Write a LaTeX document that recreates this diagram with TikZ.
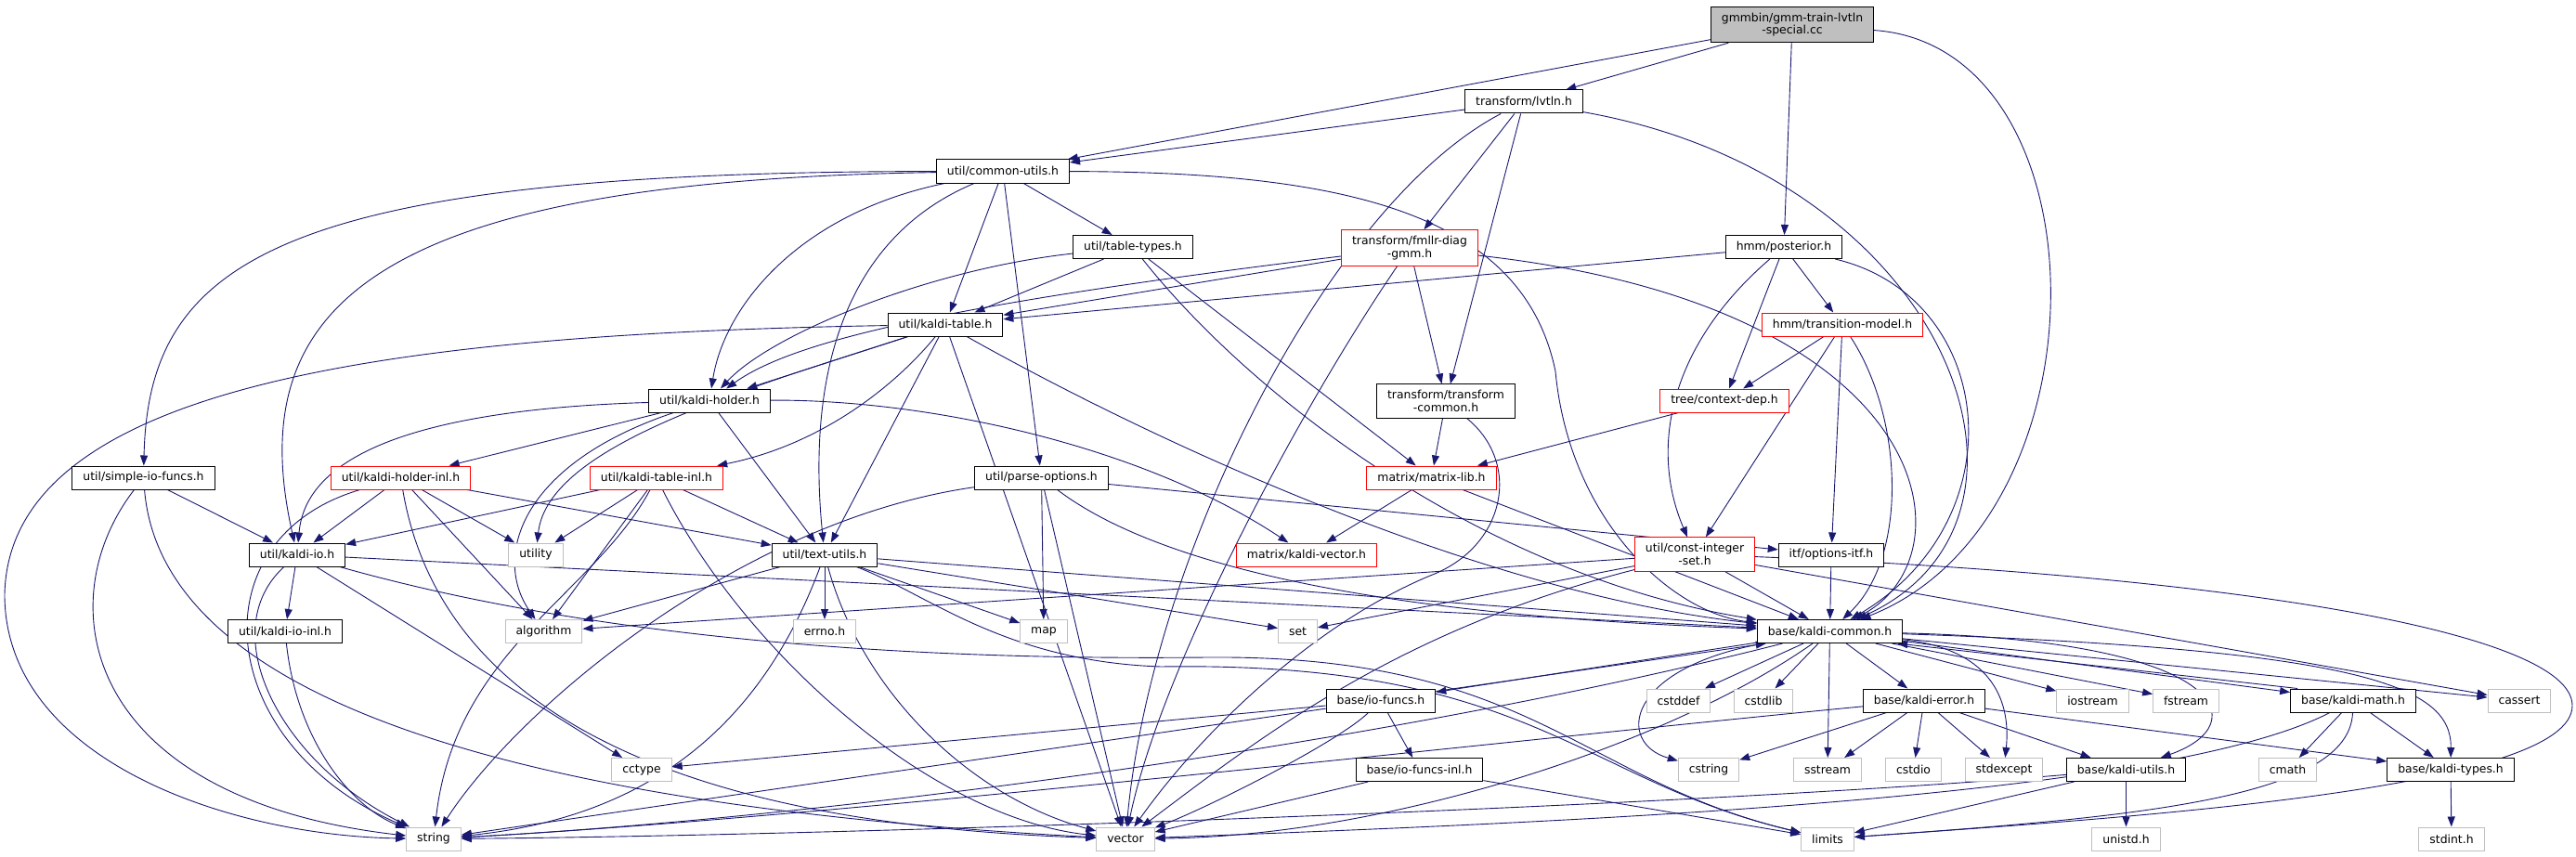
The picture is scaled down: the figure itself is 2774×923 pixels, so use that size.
\documentclass[tikz,border=0pt]{standalone}
\usepackage{fontspec}
\setmainfont{DejaVu Sans}
\usepackage{tikz}
\usetikzlibrary{arrows.meta}

\definecolor{edgeblue}{HTML}{191970}
\definecolor{sysgray}{HTML}{BFBFBF}
\pgfdeclarelayer{edges}
\pgfsetlayers{edges,main}

\begin{document}
\begin{tikzpicture}[
			x=1pt, y=-1pt,
			block/.style={
				rectangle,
				draw=black,
				fill=white,
				line width=1pt,
				inner xsep=11.5pt,
				inner ysep=6.5pt,
				minimum height=25pt,
				align=center,
				font=\fontsize{12.4}{13.5}\selectfont
			},
			redblock/.style={block, draw=red},
			sysblock/.style={block, draw=sysgray},
			rootblock/.style={block, fill=sysgray},
			arrow/.style={
				-{Triangle[length=11pt, width=8pt]},
				draw=edgeblue,
				line width=0.9pt
			}
			]
			
			\useasboundingbox (0,0) rectangle (2774,923);
			
			% Row 1-3: source file and direct includes
			\node[rootblock] (gmmbin) at (1930,26.5) {gmmbin/gmm-train-lvtln\\-special.cc};
			\node[block] (lvtln) at (1641,109.5) {transform/lvtln.h};
			\node[block] (cutils) at (1080,184.5) {util/common-utils.h};
			
			% Row 4-5
			\node[block] (tabletypes) at (1220,266) {util/table-types.h};
			\node[redblock] (fmllr) at (1518,267) {transform/fmllr-diag\\-gmm.h};
			\node[block] (posterior) at (1921,266) {hmm/posterior.h};
			\node[block] (ktable) at (1018,349.5) {util/kaldi-table.h};
			\node[redblock] (tmodel) at (1984,349.5) {hmm/transition-model.h};
			
			% Row 6
			\node[block] (kholder) at (764,431.5) {util/kaldi-holder.h};
			\node[block] (tcommon) at (1557,432) {transform/transform\\-common.h};
			\node[redblock] (contextdep) at (1857,431.5) {tree/context-dep.h};
			
			% Row 7
			\node[block] (simpleio) at (154.5,514.5) {util/simple-io-funcs.h};
			\node[redblock] (kholderinl) at (431.5,514.5) {util/kaldi-holder-inl.h};
			\node[redblock] (ktableinl) at (707,514.5) {util/kaldi-table-inl.h};
			\node[block] (parseopts) at (1121.5,514.5) {util/parse-options.h};
			\node[redblock] (matrixlib) at (1541.5,514.5) {matrix/matrix-lib.h};
			
			% Row 8
			\node[block] (kio) at (320,597.5) {util/kaldi-io.h};
			\node[sysblock] (utility) at (577,597.5) {utility};
			\node[block] (textutils) at (888,597.5) {util/text-utils.h};
			\node[redblock] (kvector) at (1407,597.5) {matrix/kaldi-vector.h};
			\node[redblock] (constset) at (1825,597) {util/const-integer\\-set.h};
			\node[block] (optionsitf) at (1972,597.5) {itf/options-itf.h};
			
			% Row 9
			\node[block] (kioinl) at (307,680) {util/kaldi-io-inl.h};
			\node[sysblock] (algorithm) at (585.5,680) {algorithm};
			\node[sysblock] (errno) at (888,680) {errno.h};
			\node[sysblock] (map) at (1124,680) {map};
			\node[sysblock] (set) at (1397.5,680) {set};
			\node[block] (kcommon) at (1970.5,680) {base/kaldi-common.h};
			
			% Row 10
			\node[block] (iofuncs) at (1487,754.5) {base/io-funcs.h};
			\node[sysblock] (cstddef) at (1807.5,754.5) {cstddef};
			\node[sysblock] (cstdlib) at (1899,754.5) {cstdlib};
			\node[block] (kerror) at (2072,754.5) {base/kaldi-error.h};
			\node[sysblock] (iostream) at (2253.5,754.5) {iostream};
			\node[sysblock] (fstream) at (2354,754.5) {fstream};
			\node[block] (kmath) at (2534,754.5) {base/kaldi-math.h};
			\node[sysblock] (cassert) at (2713,754.5) {cassert};
			
			% Row 11
			\node[sysblock] (cctype) at (691,829) {cctype};
			\node[block] (iofuncsinl) at (1528.5,829) {base/io-funcs-inl.h};
			\node[sysblock] (cstring) at (1840,829) {cstring};
			\node[sysblock] (sstream) at (1968,829) {sstream};
			\node[sysblock] (cstdio) at (2060.5,829) {cstdio};
			\node[sysblock] (stdexcept) at (2158,829) {stdexcept};
			\node[block] (kutils) at (2289.5,829) {base/kaldi-utils.h};
			\node[sysblock] (cmath) at (2463.5,829) {cmath};
			\node[block] (ktypes) at (2639,829) {base/kaldi-types.h};
			
			% Row 12
			\node[sysblock] (string) at (467,903.5) {string};
			\node[sysblock] (vector) at (1212,903.5) {vector};
			\node[sysblock] (limits) at (1968,903.5) {limits};
			\node[sysblock] (unistd) at (2289.5,903.5) {unistd.h};
			\node[sysblock] (stdint) at (2640,903.5) {stdint.h};
			
			\begin{pgfonlayer}{edges}
			% gmmbin
			\draw[arrow] (gmmbin) -- (cutils);
			\draw[arrow] (gmmbin) -- (lvtln);
			\draw[arrow] (gmmbin) -- (posterior);
			\draw[arrow] (gmmbin) .. controls (2270,50) and (2275,560) .. (kcommon);
			
			% lvtln
			\draw[arrow] (lvtln) -- (cutils);
			\draw[arrow] (lvtln) .. controls (1430,220) and (1240,600) .. (vector);
			\draw[arrow] (lvtln) -- (fmllr);
			\draw[arrow] (lvtln) -- (tcommon);
			\draw[arrow] (lvtln) .. controls (2100,190) and (2235,560) .. (kcommon);
			
			% common-utils
			\draw[arrow] (cutils) .. controls (300,185) and (160,280) .. (simpleio);
			\draw[arrow] (cutils) .. controls (400,195) and (260,330) .. (kio);
			\draw[arrow] (cutils) .. controls (860,230) and (780,330) .. (kholder);
			\draw[arrow] (cutils) -- (ktable);
			\draw[arrow] (cutils) -- (tabletypes);
			\draw[arrow] (cutils) -- (parseopts);
			\draw[arrow] (cutils) .. controls (900,260) and (870,420) .. (textutils);
			\draw[arrow] (cutils) .. controls (1450,185) and (1640,230) .. (1675,400) .. controls (1690,560) and (1800,660) .. (kcommon);
			
			% table-types
			\draw[arrow] (tabletypes) -- (ktable);
			\draw[arrow] (tabletypes) .. controls (1000,290) and (830,360) .. (kholder);
			\draw[arrow] (tabletypes) -- (matrixlib);
			\draw[arrow] (tabletypes) .. controls (1350,430) and (1600,620) .. (kcommon);
			
			% fmllr-diag-gmm
			\draw[arrow] (fmllr) -- (ktable);
			\draw[arrow] (fmllr) .. controls (1000,330) and (850,370) .. (kholder);
			\draw[arrow] (fmllr) -- (tcommon);
			\draw[arrow] (fmllr) .. controls (1400,440) and (1250,720) .. (vector);
			\draw[arrow] (fmllr) .. controls (2090,330) and (2125,600) .. (kcommon);
			
			% posterior
			\draw[arrow] (posterior) -- (ktable);
			\draw[arrow] (posterior) -- (tmodel);
			\draw[arrow] (posterior) -- (contextdep);
			\draw[arrow] (posterior) .. controls (1800,370) and (1775,480) .. (constset);
			\draw[arrow] (posterior) .. controls (2150,320) and (2175,560) .. (kcommon);
			
			% kaldi-table
			\draw[arrow] (ktable) .. controls (400,360) and (10,420) .. (5,640) .. controls (5,820) and (250,900) .. (string);
			\draw[arrow] (ktable) -- (kholder);
			\draw[arrow] (ktable) .. controls (800,420) and (590,480) .. (utility);
			\draw[arrow] (ktable) .. controls (960,420) and (880,480) .. (ktableinl);
			\draw[arrow] (ktable) -- (textutils);
			\draw[arrow] (ktable) -- (vector);
			\draw[arrow] (ktable) .. controls (1250,480) and (1600,640) .. (kcommon);
			
			% transition-model
			\draw[arrow] (tmodel) -- (contextdep);
			\draw[arrow] (tmodel) -- (constset);
			\draw[arrow] (tmodel) -- (optionsitf);
			\draw[arrow] (tmodel) .. controls (2050,450) and (2055,600) .. (kcommon);
			
			% kaldi-holder
			\draw[arrow] (kholder) .. controls (480,440) and (330,480) .. (kio);
			\draw[arrow] (kholder) -- (kholderinl);
			\draw[arrow] (kholder) .. controls (560,500) and (530,600) .. (algorithm);
			\draw[arrow] (kholder) -- (textutils);
			\draw[arrow] (kholder) .. controls (1000,430) and (1230,480) .. (kvector);
			
			% transform-common, context-dep
			\draw[arrow] (tcommon) -- (matrixlib);
			\draw[arrow] (tcommon) .. controls (1640,500) and (1620,590) .. (1540,620) .. controls (1420,670) and (1300,780) .. (vector);
			\draw[arrow] (contextdep) -- (matrixlib);
			
			% simple-io-funcs
			\draw[arrow] (simpleio) -- (kio);
			\draw[arrow] (simpleio) .. controls (50,650) and (90,860) .. (string);
			\draw[arrow] (simpleio) .. controls (170,700) and (400,860) .. (vector);
			
			% kaldi-holder-inl
			\draw[arrow] (kholderinl) -- (kio);
			\draw[arrow] (kholderinl) -- (utility);
			\draw[arrow] (kholderinl) -- (algorithm);
			\draw[arrow] (kholderinl) -- (textutils);
			\draw[arrow] (kholderinl) .. controls (210,580) and (230,800) .. (string);
			\draw[arrow] (kholderinl) .. controls (480,800) and (800,890) .. (vector);
			
			% kaldi-table-inl
			\draw[arrow] (ktableinl) -- (kio);
			\draw[arrow] (ktableinl) -- (utility);
			\draw[arrow] (ktableinl) -- (algorithm);
			\draw[arrow] (ktableinl) -- (textutils);
			\draw[arrow] (ktableinl) .. controls (640,640) and (490,700) .. (string);
			\draw[arrow] (ktableinl) .. controls (800,700) and (1000,880) .. (vector);
			
			% parse-options
			\draw[arrow] (parseopts) .. controls (800,560) and (560,760) .. (string);
			\draw[arrow] (parseopts) -- (map);
			\draw[arrow] (parseopts) -- (vector);
			\draw[arrow] (parseopts) .. controls (1300,650) and (1700,670) .. (kcommon);
			\draw[arrow] (parseopts) -- (optionsitf);
			
			% matrix-lib
			\draw[arrow] (matrixlib) -- (kvector);
			\draw[arrow] (matrixlib) -- (kcommon);
			
			% kaldi-io
			\draw[arrow] (kio) -- (kioinl);
			\draw[arrow] (kio) .. controls (230,680) and (300,820) .. (string);
			\draw[arrow] (kio) -- (cctype);
			\draw[arrow] (kio) -- (kcommon);
			\draw[arrow] (kio) .. controls (700,705) and (1100,710) .. (1300,708) .. controls (1650,705) and (1700,840) .. (limits);
			\draw[arrow] (kioinl) .. controls (320,800) and (380,870) .. (string);
			
			% text-utils
			\draw[arrow] (textutils) -- (algorithm);
			\draw[arrow] (textutils) -- (errno);
			\draw[arrow] (textutils) -- (map);
			\draw[arrow] (textutils) -- (set);
			\draw[arrow] (textutils) -- (kcommon);
			\draw[arrow] (textutils) .. controls (820,780) and (700,880) .. (string);
			\draw[arrow] (textutils) .. controls (930,750) and (1050,860) .. (vector);
			\draw[arrow] (textutils) .. controls (1000,640) and (1080,712) .. (1250,718) .. controls (1650,712) and (1700,840) .. (limits);
			
			% const-integer-set
			\draw[arrow] (constset) -- (algorithm);
			\draw[arrow] (constset) -- (set);
			\draw[arrow] (constset) .. controls (1500,680) and (1350,800) .. (vector);
			\draw[arrow] (constset) -- (kcommon);
			\draw[arrow] (constset) -- (cassert);
			\draw[arrow] (constset) .. controls (2400,620) and (2770,680) .. (2770,760) .. controls (2770,850) and (2300,880) .. (limits);
			\draw[arrow] (optionsitf) -- (kcommon);
			
			% kaldi-common
			\draw[arrow] (kcommon) -- (iofuncs);
			\draw[arrow] (kcommon) -- (cstddef);
			\draw[arrow] (kcommon) -- (cstdlib);
			\draw[arrow] (kcommon) .. controls (1750,720) and (1740,800) .. (cstring);
			\draw[arrow] (kcommon) -- (sstream);
			\draw[arrow] (kcommon) -- (kerror);
			\draw[arrow] (kcommon) .. controls (2150,700) and (2165,760) .. (stdexcept);
			\draw[arrow] (kcommon) -- (iostream);
			\draw[arrow] (kcommon) -- (fstream);
			\draw[arrow] (kcommon) .. controls (2400,690) and (2430,780) .. (kutils);
			\draw[arrow] (kcommon) -- (kmath);
			\draw[arrow] (kcommon) -- (cassert);
			\draw[arrow] (kcommon) .. controls (2550,700) and (2640,740) .. (ktypes);
			\draw[arrow] (kcommon) .. controls (1800,800) and (1500,900) .. (vector);
			\draw[arrow] (kcommon) .. controls (1500,800) and (900,880) .. (string);
			
			% kaldi-error
			\draw[arrow] (kerror) .. controls (1600,800) and (900,880) .. (string);
			\draw[arrow] (kerror) -- (cstring);
			\draw[arrow] (kerror) -- (sstream);
			\draw[arrow] (kerror) -- (cstdio);
			\draw[arrow] (kerror) -- (stdexcept);
			\draw[arrow] (kerror) -- (kutils);
			\draw[arrow] (kerror) -- (ktypes);
			
			% kaldi-math
			\draw[arrow] ([xshift=8pt]kmath.north west) -- ([xshift=-6pt]kcommon.south east);
			\draw[arrow] (kmath) -- (ktypes);
			\draw[arrow] (kmath) -- (cmath);
			\draw[arrow] (kmath) .. controls (2530,860) and (2300,880) .. (limits);
			\draw[arrow] (kmath) .. controls (2330,860) and (1700,885) .. (vector);
			
			% kaldi-utils, kaldi-types
			\draw[arrow] (kutils) -- (limits);
			\draw[arrow] (kutils) -- (unistd);
			\draw[arrow] (kutils) .. controls (1800,870) and (900,900) .. (string);
			\draw[arrow] (ktypes) -- (stdint);
			
			% io-funcs
			\draw[arrow] ([yshift=-3pt]iofuncs.north east) -- ([xshift=10pt]kcommon.south west);
			\draw[arrow] (iofuncs) -- (cctype);
			\draw[arrow] (iofuncs) -- (string);
			\draw[arrow] (iofuncs) .. controls (1440,800) and (1300,870) .. (vector);
			\draw[arrow] (iofuncs) -- (iofuncsinl);
			\draw[arrow] (iofuncsinl) -- (vector);
			\draw[arrow] (iofuncsinl) -- (limits);
			\end{pgfonlayer}
			
		\end{tikzpicture}
\end{document}
